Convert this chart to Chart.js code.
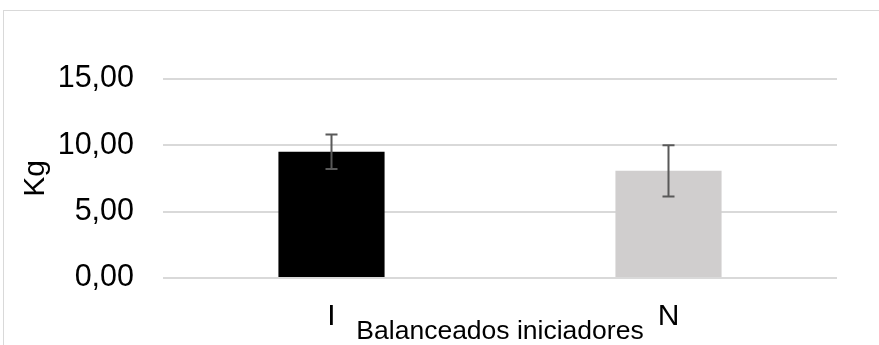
<!DOCTYPE html>
<html>
<head>
<meta charset="utf-8">
<script src="https://cdn.jsdelivr.net/npm/chart.js@4/dist/chart.umd.min.js"></script>
<style>
  html, body { margin: 0; padding: 0; background: #fff; overflow: hidden; }
  #wrap { position: relative; width: 879px; height: 345px; }
  #borde { position: absolute; left: 3px; top: 10px; width: 950px; height: 400px; border: 1px solid #d9d9d9; box-sizing: border-box; }
  canvas { position: absolute; left: 0; top: 0; }
</style>
</head>
<body>
<div id="wrap">
  <div id="borde"></div>
  <canvas id="grafico" width="879" height="345"></canvas>
</div>
<script>
// Datos del gráfico
const categorias = ['I', 'N'];
const medias = [9.52, 8.08];
const desvios = [1.30, 1.93];
const colores = ['#000000', '#d0cece'];
const ticksY = [0, 5, 10, 15];

const fuente = "'Liberation Sans', Arial, sans-serif";

function formatoComa(v) {
  return Number(v).toFixed(2).replace('.', ',');
}

// barras de error dibujadas con la escala Y
const barrasError = {
  id: 'barrasError',
  afterDatasetsDraw(chart) {
    const ctx = chart.ctx;
    const meta = chart.getDatasetMeta(0);
    const y = chart.scales.y;
    ctx.save();
    ctx.strokeStyle = '#595959';
    ctx.lineWidth = 2;
    meta.data.forEach((barra, i) => {
      const x = barra.x;
      const arriba = y.getPixelForValue(medias[i] + desvios[i]);
      const abajo = y.getPixelForValue(medias[i] - desvios[i]);
      ctx.beginPath();
      ctx.moveTo(x, arriba);
      ctx.lineTo(x, abajo);
      ctx.moveTo(x - 6, arriba);
      ctx.lineTo(x + 6, arriba);
      ctx.moveTo(x - 6, abajo);
      ctx.lineTo(x + 6, abajo);
      ctx.stroke();
    });
    ctx.restore();
  }
};

new Chart(document.getElementById('grafico'), {
  type: 'bar',
  data: {
    labels: categorias,
    datasets: [{
      data: medias,
      backgroundColor: colores,
      barPercentage: 0.315,
      categoryPercentage: 1
    }]
  },
  options: {
    responsive: false,
    animation: false,
    layout: { padding: { top: 79, right: 42, left: 0, bottom: 0 } },
    plugins: {
      legend: { display: false },
      tooltip: { enabled: false }
    },
    scales: {
      x: {
        grid: { display: false },
        border: { display: false },
        ticks: { color: '#000', padding: 13, font: { family: fuente, size: 30 } },
        title: {
          display: true,
          text: 'Balanceados iniciadores',
          color: '#000',
          padding: 0,
          font: { family: fuente, size: 26.5, lineHeight: 1 }
        },
        afterFit(scale) { scale.height = 67; }
      },
      y: {
        min: 0,
        max: 15,
        afterBuildTicks(scale) { scale.ticks = ticksY.map(v => ({ value: v })); },
        grid: { color: '#d9d9d9', lineWidth: 2, drawTicks: false },
        border: { display: false },
        ticks: {
          color: '#000',
          padding: 29,
          font: { family: fuente, size: 30.5 },
          callback: v => formatoComa(v)
        },
        title: {
          display: true,
          text: 'Kg',
          color: '#000',
          padding: { top: 18, bottom: 0 },
          font: { family: fuente, size: 30 }
        },
        afterFit(scale) { scale.width = 163; }
      }
    }
  },
  plugins: [barrasError]
});
</script>
</body>
</html>
